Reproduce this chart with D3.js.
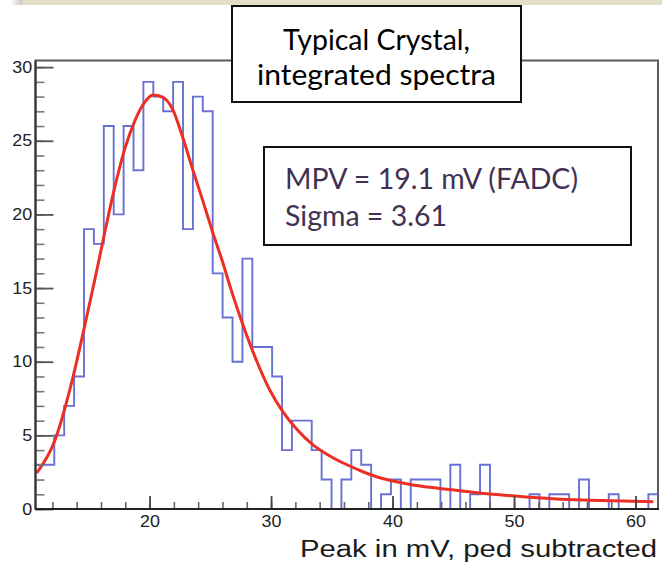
<!DOCTYPE html>
<html>
<head>
<meta charset="utf-8">
<script src="https://cdn.jsdelivr.net/npm/d3@7"></script>
<style>
  html, body { margin: 0; padding: 0; background: #fff; }
  svg { display: block; }
</style>
</head>
<body>
<div id="chart"></div>
<script>
// Histogram bins (mV)
const BIN_START = 10.527;
const BIN_WIDTH = 0.815;
const COUNTS = [
  3, 3, 5, 7, 9, 19, 18, 26, 20, 26, 23, 29, 28, 27, 29, 19, 28, 27, 16, 13,
  10, 17, 11, 11, 9, 4, 6, 6, 4, 2, 0, 2, 4, 3, 0, 1, 2, 0, 2, 2,
  2, 0, 3, 0, 1, 3, 0, 0, 0, 0, 1, 0, 1, 1, 0, 2, 0, 0, 1, 0,
  0, 0, 1,
];

// Fit curve
const FIT_X = [
  10.72, 12.18, 13.68, 14.65, 15.5, 16.29, 17.12, 17.94, 18.76, 19.59,
  20.27, 21.1, 21.92, 22.74, 23.57, 24.39, 25.21, 26.04, 26.59, 27.69,
  28.79, 29.88, 30.98, 32.08, 33.45, 34.83, 36.2, 37.57, 38.95, 40.32,
  41.69, 43.06, 44.71, 45.54, 48.0, 50.75, 53.5, 56.25, 58.99, 61.46,
];
const FIT_Y = [
  2.46, 4.6, 8.9, 12.4, 15.6, 18.7, 21.8, 24.4, 26.3, 27.6,
  28.1, 27.95, 27.1, 25.2, 23.0, 20.9, 18.75, 16.7, 15.2, 12.5,
  10.1, 8.1, 6.6, 5.45, 4.35, 3.6, 3.02, 2.53, 2.12, 1.85,
  1.63, 1.47, 1.32, 1.24, 1.02, 0.83, 0.68, 0.6, 0.54, 0.5,
];

const X_DOMAIN = [10.61, 61.85];
const Y_DOMAIN = [0, 30.45];
const X_MAJOR = [20, 30, 40, 50, 60];
const X_MINOR = d3.range(12, 62, 2);
const Y_MAJOR = [0, 5, 10, 15, 20, 25, 30];
const Y_MINOR = d3.range(0, 31, 1);

const TITLE_LINES = ["Typical Crystal,", "integrated spectra"];
const STATS_LINES = ["MPV = 19.1 mV (FADC)", "Sigma = 3.61"];
const X_TITLE = "Peak in mV, ped subtracted";

const width = 662;
const height = 564;
const frame = { left: 35.5, right: 658, top: 60.5, bottom: 509 };

const svg = d3.select("#chart")
  .append("svg")
  .attr("width", width)
  .attr("height", height)
  .attr("viewBox", `0 0 ${width} ${height}`);

// slide header band
const defs = svg.append("defs");
const grad = defs.append("linearGradient").attr("id", "shade").attr("x1", 0).attr("x2", 1);
grad.append("stop").attr("offset", 0).attr("stop-color", "#ffffff");
grad.append("stop").attr("offset", 1).attr("stop-color", "#c9c9c4");
svg.append("rect").attr("x", 10).attr("y", 0).attr("width", 12).attr("height", 5).attr("fill", "url(#shade)");
svg.append("rect").attr("x", 22).attr("y", 0).attr("width", width - 22).attr("height", 5).attr("fill", "#e2dec8");

const x = d3.scaleLinear().domain(X_DOMAIN).range([frame.left, frame.right]);
const y = d3.scaleLinear().domain(Y_DOMAIN).range([frame.bottom, frame.top]);

defs.append("clipPath").attr("id", "plot-clip")
  .append("rect")
  .attr("x", frame.left)
  .attr("y", frame.top)
  .attr("width", frame.right - frame.left)
  .attr("height", frame.bottom - frame.top);

// frame
svg.append("rect")
  .attr("x", frame.left)
  .attr("y", frame.top)
  .attr("width", frame.right - frame.left)
  .attr("height", frame.bottom - frame.top)
  .attr("fill", "none")
  .attr("stroke", "#5a5a5a")
  .attr("stroke-width", 2);

const plot = svg.append("g").attr("clip-path", "url(#plot-clip)");

// histogram outline
const stepPts = COUNTS.map((c, i) => [BIN_START + i * BIN_WIDTH, c]);
stepPts.push([BIN_START + COUNTS.length * BIN_WIDTH, COUNTS[COUNTS.length - 1]]);
plot.append("path")
  .datum(stepPts)
  .attr("fill", "none")
  .attr("stroke", "#6870d4")
  .attr("stroke-width", 1.9)
  .attr("d", d3.line().x((d) => x(d[0])).y((d) => y(d[1])).curve(d3.curveStepAfter));

// fit
plot.append("path")
  .datum(FIT_X.map((v, i) => [v, FIT_Y[i]]))
  .attr("fill", "none")
  .attr("stroke", "#ec2f25")
  .attr("stroke-width", 3)
  .attr("stroke-linejoin", "round")
  .attr("d", d3.line().x((d) => x(d[0])).y((d) => y(d[1])).curve(d3.curveMonotoneX));

// axes, ticks pointing inward
function styleAxis(g, color, sw) {
  g.select(".domain").remove();
  g.selectAll(".tick line").attr("stroke", color).attr("stroke-width", sw);
}

svg.append("g")
  .attr("transform", `translate(${frame.left},0)`)
  .call(d3.axisLeft(y).tickValues(Y_MINOR).tickSize(-9).tickFormat(""))
  .call((g) => styleAxis(g, "#777", 1.6));

svg.append("g")
  .attr("transform", `translate(${frame.left},0)`)
  .call(d3.axisLeft(y).tickValues(Y_MAJOR).tickSize(-18).tickPadding(3))
  .call((g) => styleAxis(g, "#555", 1.8))
  .call((g) => g.selectAll("text")
    .attr("font-family", "Liberation Sans, Arial, sans-serif")
    .attr("font-size", 16)
    .attr("fill", "#222")
    .attr("transform", "scale(1.12,1)"));

svg.append("g")
  .attr("transform", `translate(0,${frame.bottom})`)
  .call(d3.axisBottom(x).tickValues(X_MINOR).tickSize(-7).tickFormat(""))
  .call((g) => styleAxis(g, "#666", 1.6));

svg.append("g")
  .attr("transform", `translate(0,${frame.bottom})`)
  .call(d3.axisBottom(x).tickValues(X_MAJOR).tickSize(-13).tickPadding(7))
  .call((g) => styleAxis(g, "#444", 1.8))
  .call((g) => g.selectAll("text")
    .attr("font-family", "Liberation Sans, Arial, sans-serif")
    .attr("font-size", 16)
    .attr("fill", "#222")
    .attr("transform", "scale(1.12,1)"));

// axis lines
svg.append("line")
  .attr("x1", frame.left).attr("x2", frame.left)
  .attr("y1", frame.top).attr("y2", frame.bottom)
  .attr("stroke", "#333").attr("stroke-width", 2);
svg.append("line")
  .attr("x1", frame.left).attr("x2", frame.right + 1)
  .attr("y1", frame.bottom).attr("y2", frame.bottom)
  .attr("stroke", "#222").attr("stroke-width", 2);

svg.append("text")
  .attr("x", 657)
  .attr("y", 557)
  .attr("text-anchor", "end")
  .attr("font-family", "Liberation Sans, Arial, sans-serif")
  .attr("font-size", 23)
  .attr("fill", "#1a1a1a")
  .attr("textLength", 357)
  .attr("lengthAdjust", "spacingAndGlyphs")
  .text(X_TITLE);

// title box
svg.append("rect")
  .attr("x", 232).attr("y", 6)
  .attr("width", 289).attr("height", 96)
  .attr("fill", "#fff").attr("stroke", "#111").attr("stroke-width", 2);
const titleWidths = [187, 239];
svg.selectAll("text.title")
  .data(TITLE_LINES)
  .join("text")
  .attr("class", "title")
  .attr("x", 376.5)
  .attr("y", (d, i) => 50 + i * 35)
  .attr("text-anchor", "middle")
  .attr("font-family", "Lato, Open Sans, sans-serif")
  .attr("font-size", 28)
  .attr("fill", "#000")
  .attr("textLength", (d, i) => titleWidths[i])
  .attr("lengthAdjust", "spacingAndGlyphs")
  .text((d) => d);

// stats box
svg.append("rect")
  .attr("x", 264).attr("y", 147)
  .attr("width", 367).attr("height", 98)
  .attr("fill", "#fff").attr("stroke", "#111").attr("stroke-width", 2);
const statsWidths = [293, 162];
svg.selectAll("text.stats")
  .data(STATS_LINES)
  .join("text")
  .attr("class", "stats")
  .attr("x", 285)
  .attr("y", (d, i) => 189 + i * 37)
  .attr("font-family", "Lato, Open Sans, sans-serif")
  .attr("font-size", 28)
  .attr("fill", "#3f3151")
  .attr("textLength", (d, i) => statsWidths[i])
  .attr("lengthAdjust", "spacingAndGlyphs")
  .text((d) => d);
</script>
</body>
</html>
